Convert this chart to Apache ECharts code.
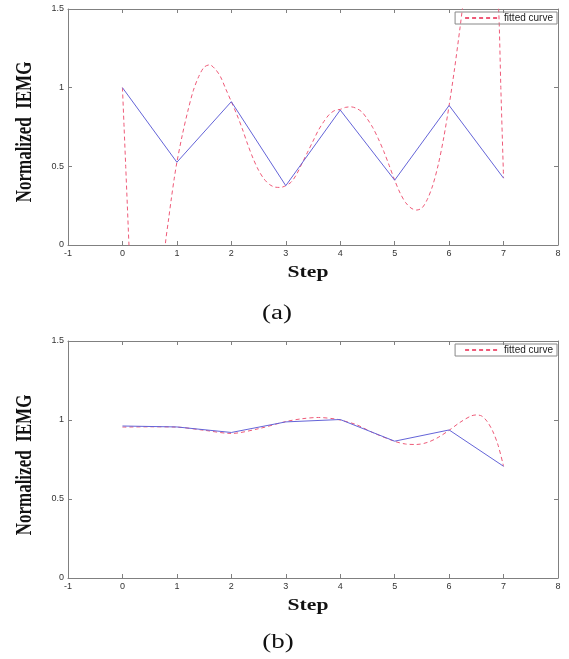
<!DOCTYPE html>
<html>
<head>
<meta charset="utf-8">
<script src="https://cdn.jsdelivr.net/npm/echarts@6/dist/echarts.min.js"></script>
<style>
html,body{margin:0;padding:0;background:#fff;}
#c{width:569px;height:659px;}
</style>
</head>
<body>
<div id="c"></div>
<script>
// ---- data ----
const steps = [0, 1, 2, 3, 4, 5, 6, 7];
const iemgA = [1.0, 0.526, 0.911, 0.377, 0.858, 0.412, 0.887, 0.425];
const iemgB = [0.962, 0.956, 0.921, 0.988, 1.003, 0.866, 0.937, 0.707];

const fitAx = [0, 0.03, 0.06, 0.09, 0.12, 0.2, 0.3, 0.45, 0.6, 0.7, 0.787, 0.85, 0.9, 0.95, 1.0,
  1.1, 1.2, 1.3, 1.4, 1.5, 1.6, 1.7, 1.8, 1.9, 2.0, 2.1, 2.2, 2.3, 2.4, 2.5, 2.6, 2.7, 2.8, 2.9, 3.0,
  3.1, 3.2, 3.3, 3.4, 3.5, 3.6, 3.7, 3.8, 3.9, 4.0, 4.1, 4.2, 4.3, 4.4, 4.5, 4.6, 4.7, 4.8, 4.9, 5.0,
  5.1, 5.2, 5.3, 5.4, 5.5, 5.6, 5.7, 5.8, 5.9, 6.0, 6.1, 6.2, 6.3, 6.5, 6.7, 6.85, 6.91, 6.95, 7.0];
const fitAy = [1.0, 0.75, 0.5, 0.25, 0.0, -0.6, -1.2, -1.6, -1.2, -0.45, 0.0, 0.17, 0.30, 0.42, 0.526,
  0.70, 0.85, 0.98, 1.07, 1.13, 1.145, 1.12, 1.07, 0.99, 0.911, 0.83, 0.74, 0.64, 0.55, 0.475, 0.42, 0.385, 0.368, 0.366, 0.377,
  0.40, 0.45, 0.52, 0.59, 0.66, 0.73, 0.785, 0.83, 0.855, 0.862, 0.875, 0.878, 0.868, 0.845, 0.80, 0.745, 0.675, 0.595, 0.505, 0.412,
  0.33, 0.27, 0.235, 0.222, 0.235, 0.29, 0.38, 0.51, 0.68, 0.887, 1.12, 1.38, 1.65, 2.1, 2.1, 1.8, 1.5, 1.0, 0.425];

const fitBx = [0, 0.5, 1.0, 1.5, 2.0, 2.5, 3.0, 3.3, 3.6, 3.9, 4.0, 4.3, 4.6, 5.0, 5.2, 5.4, 5.6, 5.8,
  6.0, 6.2, 6.4, 6.5, 6.6, 6.7, 6.8, 6.9, 7.0];
const fitBy = [0.955, 0.957, 0.955, 0.935, 0.915, 0.945, 0.99, 1.008, 1.016, 1.007, 1.0, 0.97, 0.92, 0.865, 0.848, 0.845, 0.858, 0.89,
  0.935, 0.985, 1.025, 1.032, 1.025, 0.99, 0.93, 0.84, 0.707];

const xMin = -1, xMax = 8, xStep = 1;
const yMin = 0, yMax = 1.5, yStep = 0.5;

// ---- build chart ----
const AX = '#808080';
function zipXY(xs, ys) { return xs.map((x, i) => [x, ys[i]]); }

function xAx(g, pos) {
  return {
    type: 'value', gridIndex: g, position: pos, min: xMin, max: xMax, interval: xStep,
    axisLine: { show: true, onZero: false, lineStyle: { color: AX, width: 1 } },
    axisTick: { show: true, inside: true, length: 4, lineStyle: { color: AX } },
    axisLabel: { show: pos === 'bottom', fontSize: 9, color: '#333', margin: 4, fontFamily: 'Liberation Sans' },
    splitLine: { show: false }
  };
}
function yAx(g, pos) {
  return {
    type: 'value', gridIndex: g, position: pos, min: yMin, max: yMax, interval: yStep,
    axisLine: { show: true, onZero: false, lineStyle: { color: AX, width: 1 } },
    axisTick: { show: true, inside: true, length: 4, lineStyle: { color: AX } },
    axisLabel: { show: pos === 'left', fontSize: 9, color: '#333', margin: 4, fontFamily: 'Liberation Sans' },
    splitLine: { show: false }
  };
}

const BLUE = '#6464d8', RED = '#ee5a78';

function legendFor(top) {
  return {
    data: ['fitted curve'], right: 12, top: top, orient: 'horizontal',
    borderColor: '#888', borderWidth: 1, padding: [1, 4, 1, 9],
    itemWidth: 34, itemHeight: 8, itemGap: 4,
    itemStyle: { opacity: 0 },
    textStyle: { fontSize: 10, color: '#222', fontFamily: 'Liberation Sans' },
    selectedMode: false
  };
}

function label(text, x, y, size, weight, sx, sy, rot) {
  return {
    type: 'text', x: x, y: y, rotation: rot || 0, scaleX: sx, scaleY: sy,
    style: { text: text, x: 0, y: 0, textAlign: 'center', textVerticalAlign: 'middle',
      font: weight + ' ' + size + 'px "Liberation Serif", "Times New Roman", serif', fill: '#111' }
  };
}

const option = {
  animation: false,
  backgroundColor: '#fff',
  grid: [
    { left: 68, top: 9, width: 490, height: 236 },
    { left: 68, top: 341, width: 490, height: 237 }
  ],
  xAxis: [xAx(0, 'bottom'), xAx(0, 'top'), xAx(1, 'bottom'), xAx(1, 'top')],
  yAxis: [yAx(0, 'left'), yAx(0, 'right'), yAx(1, 'left'), yAx(1, 'right')],
  legend: [legendFor(12), legendFor(344)],
  series: [
    { name: 'IEMG a', type: 'line', xAxisIndex: 0, yAxisIndex: 0, data: zipXY(steps, iemgA),
      symbol: 'none', lineStyle: { color: BLUE, width: 1 }, itemStyle: { color: BLUE }, z: 3 },
    { name: 'fitted curve', type: 'line', xAxisIndex: 0, yAxisIndex: 0, data: zipXY(fitAx, fitAy),
      symbol: 'none', smooth: 0.3, clip: true,
      lineStyle: { color: RED, width: 1, type: [4, 3] }, itemStyle: { color: RED }, z: 2 },
    { name: 'IEMG b', type: 'line', xAxisIndex: 2, yAxisIndex: 2, data: zipXY(steps, iemgB),
      symbol: 'none', lineStyle: { color: BLUE, width: 1 }, itemStyle: { color: BLUE }, z: 3 },
    { name: 'fitted curve', type: 'line', xAxisIndex: 2, yAxisIndex: 2, data: zipXY(fitBx, fitBy),
      symbol: 'none', smooth: 0.3, clip: true,
      lineStyle: { color: RED, width: 1, type: [4, 3] }, itemStyle: { color: RED }, z: 2 }
  ],
  graphic: [
    label('Step', 308, 273, 16, 'bold', 1.35, 1, 0),
    label('Step', 308, 606, 16, 'bold', 1.35, 1, 0),
    label('Normalized  IEMG', 24.5, 132, 17, 'bold', 1, 1.4, Math.PI / 2),
    label('Normalized  IEMG', 24.5, 465, 17, 'bold', 1, 1.4, Math.PI / 2),
    label('(a)', 277, 314, 20, 'normal', 1.35, 1, 0),
    label('(b)', 278, 643, 20, 'normal', 1.35, 1, 0)
  ]
};

const chart = echarts.init(document.getElementById('c'), null, { renderer: 'canvas' });
chart.setOption(option);
</script>
</body>
</html>
